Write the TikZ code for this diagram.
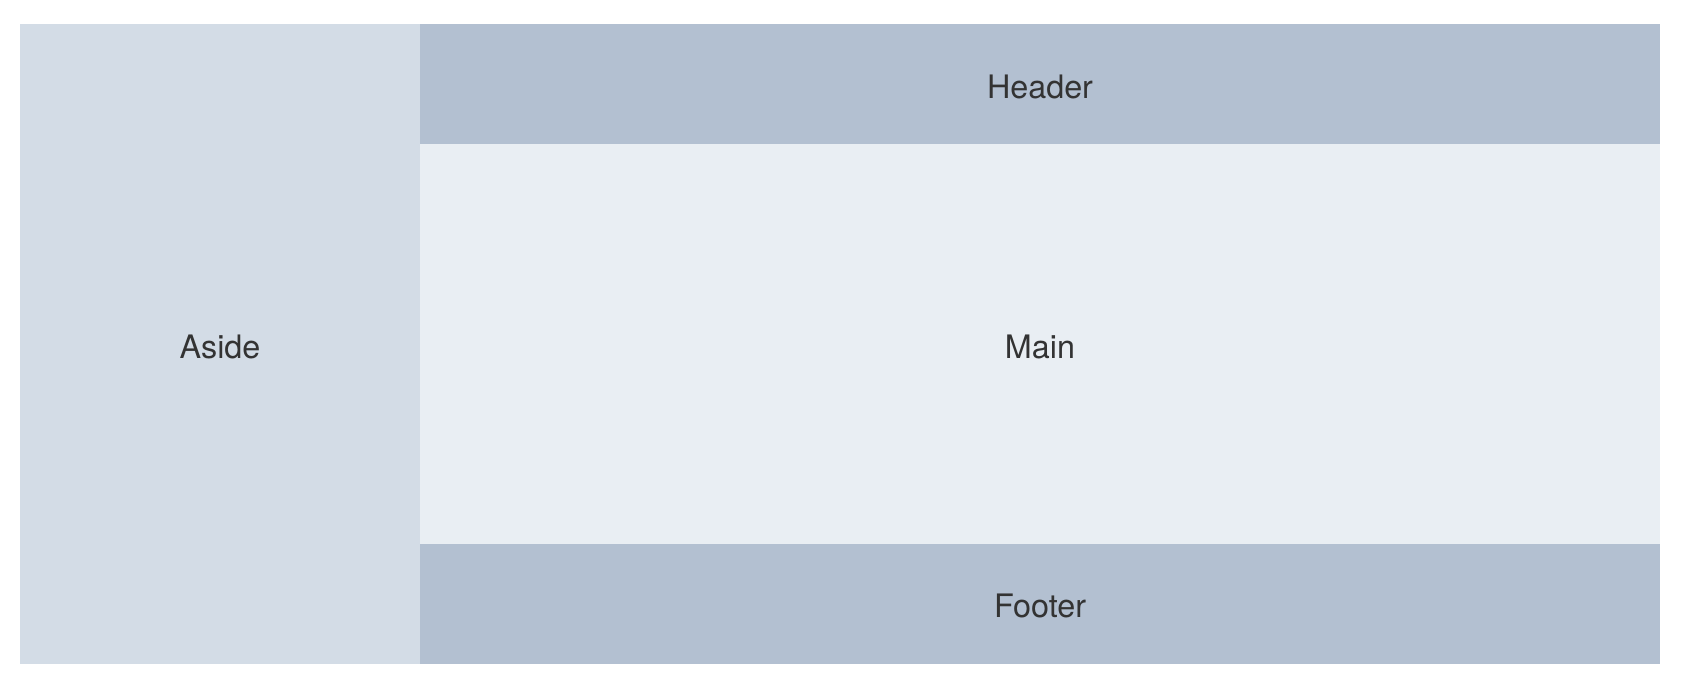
\documentclass[tikz,border=0pt]{standalone}
\usepackage{fontspec}
\setmainfont{TeX Gyre Heros}
\usetikzlibrary{positioning}
\definecolor{asidecolor}{HTML}{D3DCE6}
\definecolor{barcolor}{HTML}{B3C0D1}
\definecolor{maincolor}{HTML}{E9EEF3}
\definecolor{textcolor}{HTML}{333333}

\begin{document}
\begin{tikzpicture}[
    x=0.02cm, y=-0.02cm,
    region/.style={rectangle, inner sep=0pt, outer sep=0pt, text=textcolor, text height=16pt, text depth=0pt, font=\fontsize{18.4}{22}\selectfont},
    aside/.style={region, fill=asidecolor},
    bar/.style={region, fill=barcolor},
    mainarea/.style={region, fill=maincolor}
]

% canvas: 1684 x 692
\useasboundingbox (0,0) rectangle (1684,692);

% Aside column
\node[aside, minimum width=8cm, minimum height=12.8cm] (aside) at (220, 344) {Aside};

% Header / Main / Footer
\node[bar, minimum width=24.8cm, minimum height=2.4cm] (header) at (1040, 84) {Header};
\node[mainarea, minimum width=24.8cm, minimum height=8cm, below=0pt of header] (main) {Main};
\node[bar, minimum width=24.8cm, minimum height=2.4cm, below=0pt of main] (footer) {Footer};

\end{tikzpicture}
\end{document}
